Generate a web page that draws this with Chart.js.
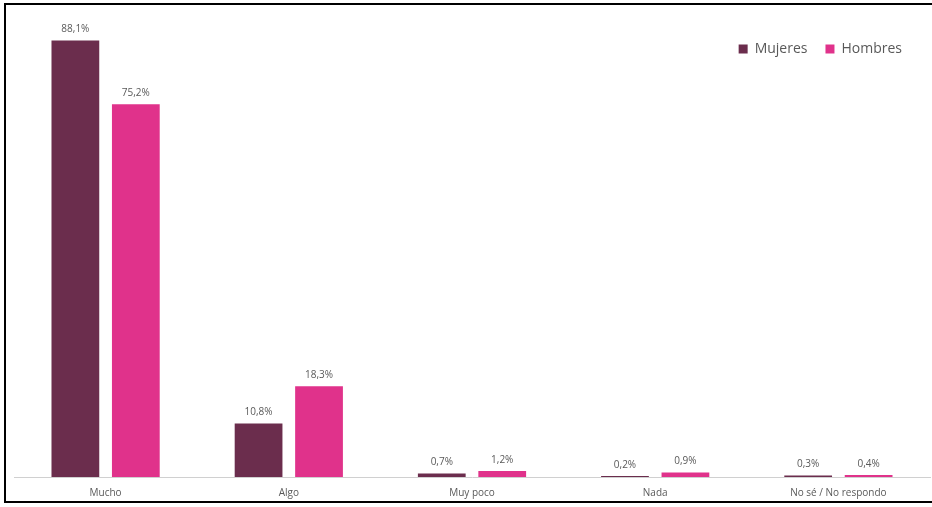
<!DOCTYPE html>
<html>
<head>
<meta charset="utf-8">
<script src="https://cdn.jsdelivr.net/npm/chart.js@4.4.1/dist/chart.umd.min.js"></script>
<style>
  html, body { margin: 0; padding: 0; background: #fff; }
  #wrap {
    position: relative;
    width: 932px;
    height: 507px;
    box-sizing: border-box;
    overflow: hidden;
  }
  #frame {
    position: absolute;
    left: 4px; top: 3px; width: 940px; height: 500px;
    border: 2px solid #000;
    box-sizing: border-box;
    pointer-events: none;
  }
  canvas { position: absolute; left: 0; top: 0; }
</style>
</head>
<body>
<div id="wrap">
  <canvas id="chart" width="932" height="507"></canvas>
  <div id="frame"></div>
</div>
<script>
// --- data ---
const categories = ["Mucho", "Algo", "Muy poco", "Nada", "No sé / No respondo"];
const mujeres = [88.1, 10.8, 0.7, 0.2, 0.3];
const hombres = [75.2, 18.3, 1.2, 0.9, 0.4];
const seriesNames = ["Mujeres", "Hombres"];

const colMujeres = "#6b2d4d";
const colHombres = "#e0328b";
const textGray = "#595959";

// value labels above each bar (Spanish decimal comma)
const barLabels = {
    id: "barLabels",
    afterDatasetsDraw(chart) {
        const ctx = chart.ctx;
        ctx.save();
        ctx.font = "10px 'Open Sans', sans-serif";
        ctx.fillStyle = textGray;
        ctx.textAlign = "center";
        ctx.textBaseline = "bottom";
        chart.data.datasets.forEach((ds, i) => {
            chart.getDatasetMeta(i).data.forEach((bar, j) => {
                const txt = ds.data[j].toFixed(1).replace(".", ",") + "%";
                ctx.fillText(txt, bar.x, bar.y - 6);
            });
        });
        ctx.restore();
    }
};

// legend sits over the plot (like the Excel original): no layout height,
// but its real height is restored while drawing so it is not clipped away
const floatLegend = {
    id: "floatLegend",
    beforeInit(chart) {
        const leg = chart.legend;
        const fit = leg.fit;
        const draw = leg.draw;
        leg.fit = function () {
            fit.call(this);
            this._realH = this.height;
            this.height = 0;
        };
        leg.draw = function () {
            // nudge up/left to sit where the original legend is
            this.top -= 7;
            this.right -= 10;
            this.height = this._realH;
            this.bottom = this.top + this._realH;
            draw.call(this);
            this.top += 7;
            this.right += 10;
        };
    }
};

new Chart(document.getElementById("chart"), {
    type: "bar",
    data: {
        labels: categories,
        datasets: [
            { label: seriesNames[0], data: mujeres, backgroundColor: colMujeres },
            { label: seriesNames[1], data: hombres, backgroundColor: colHombres }
        ]
    },
    options: {
        responsive: false,
        animation: false,
        layout: { padding: { top: 31, right: 2, bottom: 0, left: 14 } },
        datasets: {
            bar: { categoryPercentage: 0.66, barPercentage: 0.79 }
        },
        plugins: {
            legend: {
                position: "top",
                align: "end",
                labels: {
                    color: textGray,
                    boxWidth: 9,
                    boxHeight: 9,
                    padding: 18,
                    font: { size: 14, family: "'Open Sans', sans-serif" }
                }
            },
            tooltip: { enabled: false }
        },
        scales: {
            x: {
                grid: { display: false, drawTicks: false },
                border: { color: "#d0d0d0", width: 1 },
                ticks: {
                    color: textGray,
                    padding: 10,
                    font: { size: 10, family: "'Open Sans', sans-serif" }
                },
                afterFit(axis) { axis.height = 30; }
            },
            y: {
                display: false,
                min: 0,
                max: 90
            }
        }
    },
    plugins: [floatLegend, barLabels]
});
</script>
</body>
</html>
